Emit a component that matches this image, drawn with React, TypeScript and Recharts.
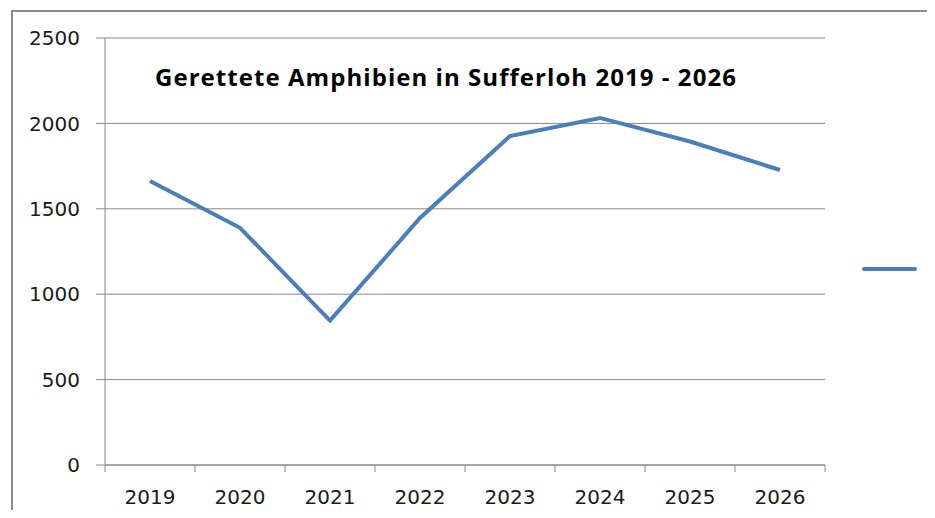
import { LineChart, Line, XAxis, YAxis, CartesianGrid, Legend } from 'recharts';

const years = ['2019', '2020', '2021', '2022', '2023', '2024', '2025', '2026'];
const rescued = [1663, 1389, 845, 1446, 1926, 2032, 1894, 1727];
const yTicks = [0, 500, 1000, 1500, 2000, 2500];

const data = years.map((year, i) => ({ year, rescued: rescued[i] }));

const lineColor = '#4A7EBB';
const axisColor = '#888888';
const textColor = '#1a1a1a';

// labels sit in the middle of each category, tick marks on the category borders
const YearTick = (props: any) => {
  const { x, y, payload, index, width, visibleTicksCount } = props;
  const half = payload.offset || width / visibleTicksCount / 2;
  const last = index === visibleTicksCount - 1;
  return (
    <g>
      <line x1={x - half} y1={y} x2={x - half} y2={y + 7} stroke={axisColor} />
      {last && <line x1={x + half} y1={y} x2={x + half} y2={y + 7} stroke={axisColor} />}
      <text x={x} y={y + 39} textAnchor="middle" fill={textColor} fontSize={20} fontFamily="DejaVu Sans">
        {payload.value}
      </text>
    </g>
  );
};

const LegendLine = () => (
  <svg width={57} height={10}>
    <line x1={3} y1={5} x2={54} y2={5} stroke={lineColor} strokeWidth={4} strokeLinecap="round" />
  </svg>
);

export default function App() {
  return (
    <div style={{ position: 'relative', width: 935, height: 518, margin: -8, background: '#fff', overflow: 'hidden' }}>
      <div
        style={{
          position: 'absolute',
          left: 11,
          top: 10,
          width: 1000,
          height: 600,
          borderLeft: '2px solid #8c8c8c',
          borderTop: '2px solid #8c8c8c',
        }}
      />
      <LineChart width={935} height={518} data={data} margin={{ top: 38, right: 110, left: 45, bottom: 0 }}>
        <CartesianGrid vertical={false} stroke={axisColor} strokeWidth={1} />
        <XAxis
          dataKey="year"
          scale="band"
          height={53}
          stroke={axisColor}
          tickLine={false}
          tickSize={0}
          tickMargin={0}
          tick={<YearTick />}
          interval={0}
        />
        <YAxis
          width={60}
          domain={[0, 2500]}
          ticks={yTicks}
          stroke={axisColor}
          tickSize={9}
          tickMargin={16}
          tick={{ fill: textColor, fontSize: 20, fontFamily: 'DejaVu Sans' }}
        />
        <Legend
          layout="vertical"
          align="center"
          verticalAlign="middle"
          content={<LegendLine />}
          wrapperStyle={{ left: 861, top: 260, width: 57, height: 10 }}
        />
        <Line
          type="linear"
          dataKey="rescued"
          stroke={lineColor}
          strokeWidth={4}
          dot={false}
          activeDot={false}
          isAnimationActive={false}
        />
      </LineChart>
      <div
        style={{
          position: 'absolute',
          left: 0,
          width: 892,
          top: 60,
          textAlign: 'center',
          fontFamily: 'Open Sans',
          fontWeight: 700,
          fontSize: 24,
          letterSpacing: 1.05,
          color: '#000',
          whiteSpace: 'nowrap',
        }}
      >
        Gerettete Amphibien in Sufferloh 2019 - 2026
      </div>
    </div>
  );
}
